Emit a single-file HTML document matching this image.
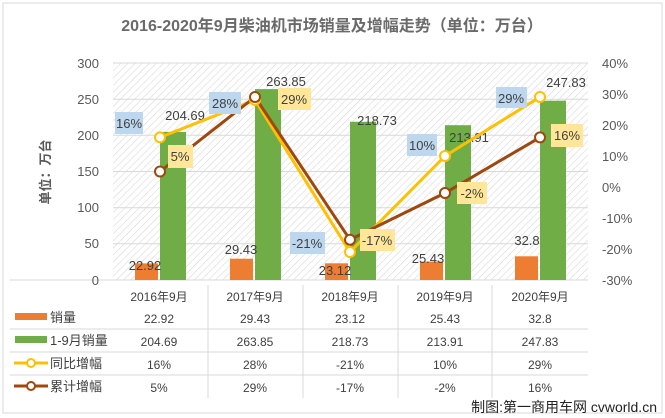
<!DOCTYPE html>
<html><head><meta charset="utf-8"><style>
body{margin:0;background:#fff;}
svg{display:block;font-family:"Liberation Sans","Noto Sans CJK SC",sans-serif;}
</style></head><body>
<svg width="665" height="418" viewBox="0 0 665 418">
<defs>
<pattern id="h" width="5" height="5" patternUnits="userSpaceOnUse" patternTransform="rotate(45)">
<rect width="5" height="5" fill="#fff"/><line x1="0" y1="0" x2="0" y2="5" stroke="#d9d9d9" stroke-width="1.2"/>
</pattern>
</defs>
<rect x="0" y="0" width="665" height="418" fill="#fff"/>
<rect x="3" y="3" width="659" height="410" fill="none" stroke="#d9d9d9"/>
<text x="332" y="31" text-anchor="middle" font-size="16" font-weight="bold" fill="#6a6a6a">2016-2020年9月柴油机市场销量及增幅走势（单位：万台）</text>
<rect x="113" y="63" width="475" height="217" fill="url(#h)"/>
<g stroke="#d9d9d9" stroke-width="1">
<line x1="113" y1="63" x2="588" y2="63"/><line x1="113" y1="99.2" x2="588" y2="99.2"/><line x1="113" y1="135.3" x2="588" y2="135.3"/><line x1="113" y1="171.5" x2="588" y2="171.5"/><line x1="113" y1="207.7" x2="588" y2="207.7"/><line x1="113" y1="243.8" x2="588" y2="243.8"/><line x1="10" y1="280" x2="588" y2="280"/>
<line x1="10" y1="329" x2="588" y2="329"/><line x1="10" y1="352" x2="588" y2="352"/><line x1="10" y1="375" x2="588" y2="375"/>
<line x1="208" y1="285" x2="208" y2="398"/><line x1="303" y1="285" x2="303" y2="398"/><line x1="398" y1="285" x2="398" y2="398"/><line x1="492" y1="285" x2="492" y2="398"/>
</g>
<g font-size="13" fill="#595959" text-anchor="end">
<text x="99" y="68">300</text><text x="99" y="104">250</text><text x="99" y="140">200</text><text x="99" y="176">150</text><text x="99" y="212">100</text><text x="99" y="248">50</text><text x="99" y="285">0</text>
</g>
<g font-size="13" fill="#595959" text-anchor="start">
<text x="602" y="68">40%</text><text x="602" y="99">30%</text><text x="602" y="130">20%</text><text x="602" y="161">10%</text><text x="602" y="192">0%</text><text x="602" y="223">-10%</text><text x="602" y="254">-20%</text><text x="602" y="285">-30%</text>
</g>
<text transform="translate(50,172) rotate(-90)" font-size="13" font-weight="bold" fill="#595959" text-anchor="middle">单位：万台</text>
<g fill="#ED7D31">
<rect x="135" y="263.4" width="23" height="16.6"/><rect x="230" y="258.7" width="23" height="21.3"/><rect x="325" y="263.3" width="23" height="16.7"/><rect x="420" y="261.6" width="23" height="18.4"/><rect x="515" y="256.3" width="23" height="23.7"/>
</g>
<g fill="#70AD47">
<rect x="160" y="131.9" width="26" height="148.1"/><rect x="255" y="89.1" width="26" height="190.9"/><rect x="350" y="121.8" width="26" height="158.2"/><rect x="445" y="125.2" width="26" height="154.8"/><rect x="540" y="100.7" width="26" height="179.3"/>
</g>
<g font-size="13" fill="#404040" text-anchor="middle">
<text x="185" y="120">204.69</text><text x="286" y="86">263.85</text><text x="377" y="125">218.73</text><text x="469" y="142">213.91</text><text x="566" y="87">247.83</text>
<text x="145" y="270">22.92</text><text x="241" y="254">29.43</text><text x="335" y="275">23.12</text><text x="428" y="263">25.43</text><text x="527" y="245">32.8</text>
</g>
<polyline points="160,137.4 255,100 350,252 445,156 540,97" fill="none" stroke="#FFC000" stroke-width="3"/>
<polyline points="160,171.5 255,97 350,239.7 445,193 540,137.4" fill="none" stroke="#9E480E" stroke-width="3"/>
<g fill="#fff" stroke="#FFC000" stroke-width="2">
<circle cx="160" cy="137.4" r="5"/><circle cx="255" cy="100" r="5"/><circle cx="350" cy="252" r="5"/><circle cx="445" cy="156" r="5"/><circle cx="540" cy="97" r="5"/>
</g>
<g fill="#fff" stroke="#9E480E" stroke-width="2">
<circle cx="160" cy="171.5" r="5"/><circle cx="255" cy="97" r="5"/><circle cx="350" cy="239.7" r="5"/><circle cx="445" cy="193" r="5"/><circle cx="540" cy="137.4" r="5"/>
</g>
<g fill="#BDD7EE">
<rect x="115" y="112" width="28" height="22"/><rect x="209" y="92" width="32" height="22"/><rect x="290" y="232" width="35" height="22"/><rect x="407" y="134" width="30" height="22"/><rect x="496" y="87" width="31" height="21"/>
</g>
<g fill="#FFE699">
<rect x="168" y="145" width="25" height="23"/><rect x="278" y="88" width="33" height="22"/><rect x="360" y="229" width="35" height="22"/><rect x="457" y="182" width="30" height="22"/><rect x="551" y="124" width="32" height="23"/>
</g>
<g font-size="13" fill="#404040" text-anchor="middle">
<text x="129" y="128">16%</text><text x="225" y="108">28%</text><text x="307" y="248">-21%</text><text x="422" y="150">10%</text><text x="511" y="103">29%</text>
<text x="180" y="161">5%</text><text x="294" y="104">29%</text><text x="377" y="245">-17%</text><text x="472" y="198">-2%</text><text x="567" y="140">16%</text>
</g>
<g font-size="12" fill="#404040" text-anchor="middle">
<text x="159" y="301">2016年9月</text><text x="255" y="301">2017年9月</text><text x="350" y="301">2018年9月</text><text x="445" y="301">2019年9月</text><text x="540" y="301">2020年9月</text>
<text x="159" y="323">22.92</text><text x="255" y="323">29.43</text><text x="350" y="323">23.12</text><text x="445" y="323">25.43</text><text x="540" y="323">32.8</text>
<text x="159" y="346">204.69</text><text x="255" y="346">263.85</text><text x="350" y="346">218.73</text><text x="445" y="346">213.91</text><text x="540" y="346">247.83</text>
<text x="159" y="369">16%</text><text x="255" y="369">28%</text><text x="350" y="369">-21%</text><text x="445" y="369">10%</text><text x="540" y="369">29%</text>
<text x="159" y="392">5%</text><text x="255" y="392">29%</text><text x="350" y="392">-17%</text><text x="445" y="392">-2%</text><text x="540" y="392">16%</text>
</g>
<rect x="15" y="313" width="32" height="7" fill="#ED7D31"/>
<rect x="15" y="336" width="32" height="7" fill="#70AD47"/>
<line x1="14" y1="363" x2="48" y2="363" stroke="#FFC000" stroke-width="3"/><circle cx="31" cy="363" r="4" fill="#fff" stroke="#FFC000" stroke-width="2"/>
<line x1="14" y1="386" x2="48" y2="386" stroke="#9E480E" stroke-width="3"/><circle cx="31" cy="386" r="4" fill="#fff" stroke="#9E480E" stroke-width="2"/>
<g font-size="13" fill="#404040">
<text x="50" y="322">销量</text><text x="50" y="345">1-9月销量</text><text x="50" y="368">同比增幅</text><text x="50" y="391">累计增幅</text>
</g>
<text x="657" y="412" font-size="14" fill="#222" text-anchor="end">制图:第一商用车网 cvworld.cn</text>
</svg>
</body></html>
